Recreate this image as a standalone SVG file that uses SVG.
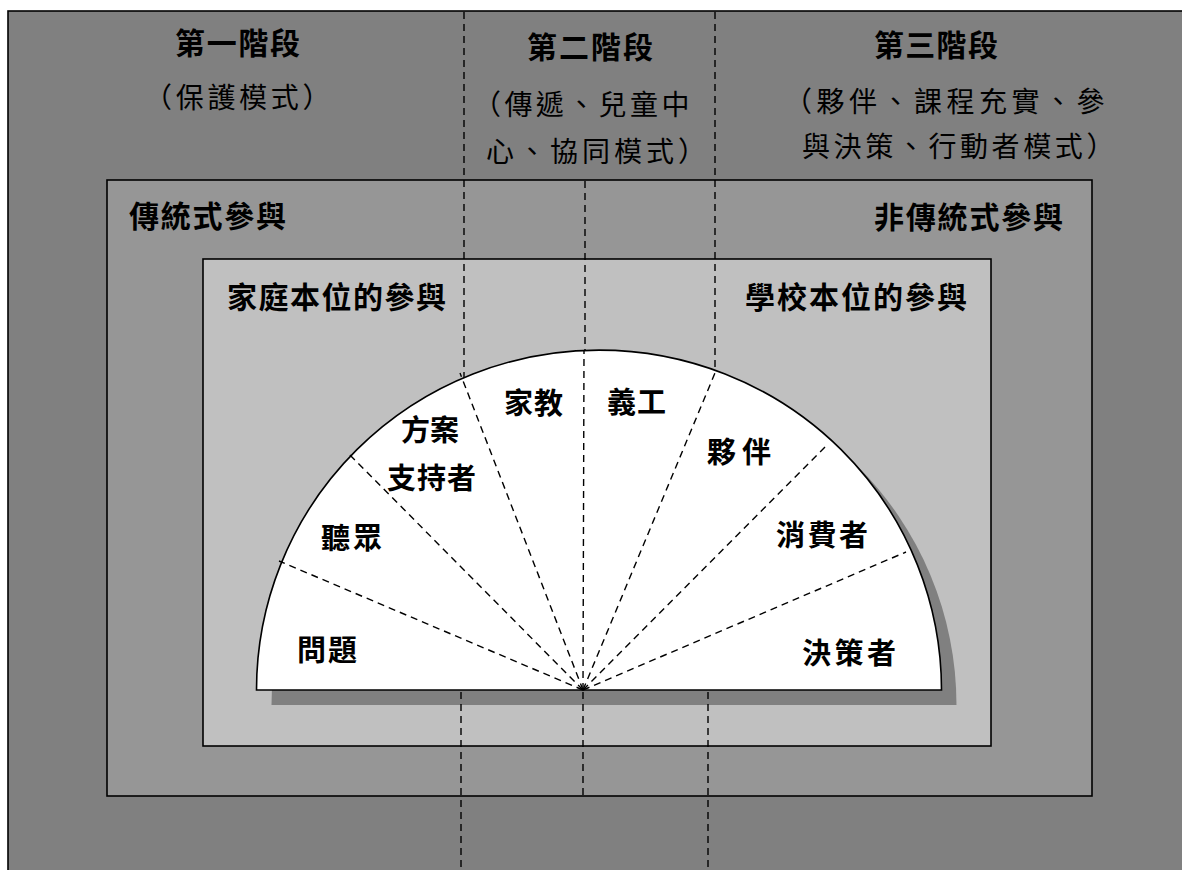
<svg xmlns="http://www.w3.org/2000/svg" width="1182" height="870" viewBox="0 0 1182 870">
<style>
.box{stroke:#000;stroke-width:1.6}
.dash{fill:none;stroke:#000;stroke-width:1.4;stroke-dasharray:7 5}
.t{font-family:"Noto Sans CJK TC","Noto Sans CJK SC",sans-serif;fill:#000}
.h{font-size:30px;font-weight:bold}
.p{font-size:28px;font-weight:normal}
.l{font-size:30px;font-weight:bold}
.s{font-size:29px;font-weight:bold}
</style>
<rect width="1182" height="870" fill="#fff"/>
<g id="stages">
<rect class="box" x="8" y="11" width="1200" height="900" fill="#808080"/>
</g>
<g id="traditional">
<rect class="box" x="107" y="180" width="985" height="616" fill="#969696"/>
</g>
<g id="base">
<rect class="box" x="203" y="259" width="788" height="487" fill="#c0c0c0"/>
</g>
<g id="connectors-upper">
<line class="dash" x1="464" y1="12" x2="464" y2="400"/>
<line class="dash" x1="715" y1="12" x2="715" y2="400"/>
<line class="dash" x1="585" y1="181" x2="585" y2="380"/>
</g>
<g id="semicircle">
<path d="M271.5 705 A342.5 340 0 0 1 956.5 705 Z" fill="#808080"/>
<path d="M256.5 690 A342.5 340 0 0 1 941.5 690 Z" fill="#fff" stroke="#000" stroke-width="1.6"/>
</g>
<g id="connectors">
<line class="dash" x1="583" y1="690" x2="279" y2="561"/>
<line class="dash" x1="583" y1="690" x2="348" y2="453"/>
<line class="dash" x1="583" y1="690" x2="460" y2="373"/>
<line class="dash" x1="583" y1="690" x2="584" y2="350"/>
<line class="dash" x1="583" y1="690" x2="715" y2="373"/>
<line class="dash" x1="583" y1="690" x2="825" y2="447"/>
<line class="dash" x1="583" y1="690" x2="906" y2="552"/>
<line class="dash" x1="583" y1="692" x2="583" y2="796"/>
<line class="dash" x1="461" y1="692" x2="461" y2="870"/>
<line class="dash" x1="708" y1="692" x2="708" y2="870"/>
</g>
<g id="stage1">
<text class="t h" x="175" y="54" letter-spacing="1.7">第一階段</text>
<text class="t p" x="144" y="108" letter-spacing="3.7">（保護模式）</text>
</g>
<g id="stage2">
<text class="t h" x="527" y="58" letter-spacing="2">第二階段</text>
<text class="t p" x="473" y="115" letter-spacing="3.4">（傳遞、兒童中</text>
<text class="t p" x="486" y="162" letter-spacing="4">心、協同模式）</text>
</g>
<g id="stage3">
<text class="t h" x="874" y="56" letter-spacing="1.3">第三階段</text>
<text class="t p" x="784" y="112" letter-spacing="4.5">（夥伴、課程充實、參</text>
<text class="t p" x="802" y="157" letter-spacing="3.6">與決策、行動者模式）</text>
</g>
<g id="labels-box">
<text class="t l" x="129" y="227" letter-spacing="1.75">傳統式參與</text>
<text class="t l" x="874" y="228" letter-spacing="1.8">非傳統式參與</text>
<text class="t l" x="227" y="308" letter-spacing="1.5">家庭本位的參與</text>
<text class="t l" x="745" y="308" letter-spacing="2">學校本位的參與</text>
</g>
<g id="sectors">
<text class="t s" x="297" y="661" letter-spacing="2">問題</text>
<text class="t s" x="321" y="549" letter-spacing="3">聽眾</text>
<text class="t s" x="401" y="441" letter-spacing="0">方案</text>
<text class="t s" x="387" y="489" letter-spacing="1">支持者</text>
<text class="t s" x="504" y="414" letter-spacing="1">家教</text>
<text class="t s" x="607" y="413" letter-spacing="1">義工</text>
<text class="t s" x="707" y="463" letter-spacing="6">夥伴</text>
<text class="t s" x="776" y="546" letter-spacing="2.5">消費者</text>
<text class="t s" x="802" y="664" letter-spacing="3.5">決策者</text>
</g>
</svg>
